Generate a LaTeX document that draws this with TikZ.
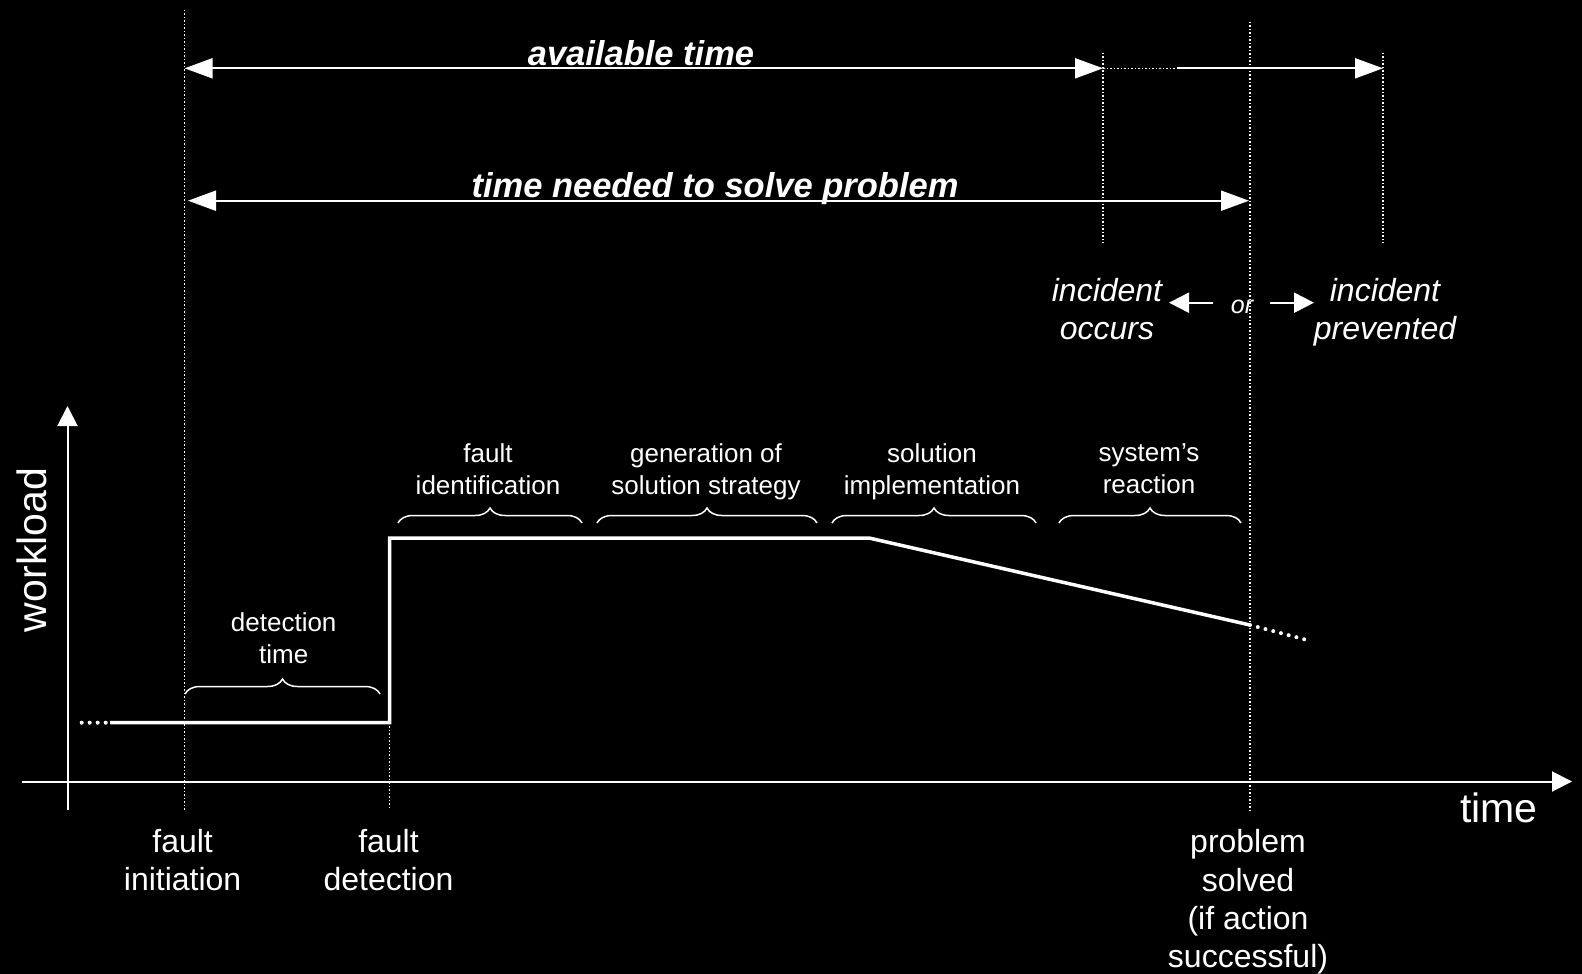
\documentclass[tikz,border=0pt]{standalone}
\usepackage{fontspec}
\setmainfont{Liberation Sans}
\usetikzlibrary{arrows.meta,decorations.pathreplacing}
\begin{document}
\begin{tikzpicture}[x=1pt,y=-1pt,
  every node/.style={text=white,inner sep=0pt,align=center},
  big/.style={font=\fontsize{32}{38.4}\selectfont},
  bigit/.style={font=\fontsize{32}{38.4}\selectfont\itshape},
  title/.style={font=\fontsize{34.5}{40}\selectfont\bfseries\itshape},
  small/.style={font=\fontsize{26}{32}\selectfont},
  axlabel/.style={font=\fontsize{41}{48}\selectfont},
  axis/.style={draw=white,line width=2pt},
  dimline/.style={draw=white,line width=2pt},
  guide/.style={draw=white,line width=1.5pt,dash pattern=on 1.5pt off 2pt},
  load/.style={draw=white,line width=3.5pt,line join=miter},
  loaddots/.style={draw=white,line width=4pt,line cap=round,dash pattern=on 0pt off 8pt},
  bracestyle/.style={draw=white,line width=1.5pt,decorate,decoration={brace,amplitude=15pt}},
  bighead/.style={-{Triangle[length=28pt,width=20pt]}},
  bothheads/.style={{Triangle[length=28pt,width=20pt]}-{Triangle[length=28pt,width=20pt]}},
  axhead/.style={-{Triangle[length=20pt,width=20pt]}},
  smallhead/.style={-{Triangle[length=20pt,width=20pt]}}
]
\fill[black] (0,0) rectangle (1582,974);
\useasboundingbox (0,0) rectangle (1582,974);

% coordinates
\coordinate (yb) at (67.5,810);
\coordinate (yt) at (67.5,406);
\coordinate (xl) at (22,781.5);
\coordinate (xr) at (1572,781.5);

\coordinate (fiT) at (184.6,10);
\coordinate (fiB) at (184.6,811);
\coordinate (fdT) at (389.5,722.7);
\coordinate (fdB) at (389.5,808);
\coordinate (ioT) at (1103,53);
\coordinate (ioB) at (1103,243);
\coordinate (ipT) at (1383,53);
\coordinate (ipB) at (1383,243);
\coordinate (psT) at (1250,22);
\coordinate (psB) at (1250,812);

\coordinate (av1) at (184.6,68.3);
\coordinate (av2) at (1103,68.3);
\coordinate (av3) at (1177,68.3);
\coordinate (av4) at (1383,68.3);
\coordinate (tn1) at (188,200.7);
\coordinate (tn2) at (1249,200.7);

\coordinate (oL0) at (1213,302.7);
\coordinate (oL1) at (1169,302.7);
\coordinate (oR0) at (1270,302.7);
\coordinate (oR1) at (1314,302.7);

\coordinate (w0) at (81.7,722.7);
\coordinate (w1) at (110,722.7);
\coordinate (w2) at (389.5,722.7);
\coordinate (w3) at (389.5,538);
\coordinate (w4) at (869,538);
\coordinate (w5) at (1250,625);
\coordinate (w6) at (1307,640);

\coordinate (b1a) at (185,694);  \coordinate (b1b) at (380,694);
\coordinate (b2a) at (398,523);  \coordinate (b2b) at (582,523);
\coordinate (b3a) at (597,523);  \coordinate (b3b) at (817,523);
\coordinate (b4a) at (832,523);  \coordinate (b4b) at (1036,523);
\coordinate (b5a) at (1059,523); \coordinate (b5b) at (1241,523);

% guide lines
\draw[guide] (fiT) -- (fiB);
\draw[guide] (fdT) -- (fdB);
\draw[guide] (ioT) -- (ioB);
\draw[guide] (ipT) -- (ipB);
\draw[guide] (psT) -- (psB);

% axes
\draw[axis,axhead] (yb) -- (yt);
\draw[axis,axhead] (xl) -- (xr);

% dimension arrows
\draw[dimline,bothheads] (av1) -- (av2);
\draw[guide] (av2) -- (av3);
\draw[dimline,bighead] (av3) -- (av4);
\draw[dimline,bothheads] (tn1) -- (tn2);
\draw[dimline,smallhead] (oL0) -- (oL1);
\draw[dimline,smallhead] (oR0) -- (oR1);

% workload curve
\draw[loaddots] (w0) -- (w1);
\draw[load] (w1) -- (w2) -- (w3) -- (w4) -- (w5);
\draw[loaddots] (w5) -- (w6);

% braces
\draw[bracestyle] (b1a) -- (b1b);
\draw[bracestyle] (b2a) -- (b2b);
\draw[bracestyle] (b3a) -- (b3b);
\draw[bracestyle] (b4a) -- (b4b);
\draw[bracestyle] (b5a) -- (b5b);

% labels
\node[title,anchor=base] (avail) at (641,66) {available time};
\node[title,anchor=base] (need) at (715,197) {time needed to solve problem};
\node[bigit] (occ) at (1107,309) {incident\\occurs};
\node[bigit] (prev) at (1385,312) {incident\\prevented};
\node[font=\fontsize{25}{30}\selectfont\itshape,anchor=base] (or) at (1242,313) {or};

\node[small] (det) at (283.7,638) {detection\\time};
\node[small] (fid) at (488,469) {fault\\identification};
\node[small] (gen) at (706,472) {generation of\\solution strategy};
\node[small] (imp) at (932,472) {solution\\implementation};
\node[small] (sys) at (1149,469) {system’s\\reaction};

\node[big] (finit) at (182.6,860) {fault\\initiation};
\node[big] (fdet) at (388.5,860) {fault\\detection};
\node[big] (psol) at (1248,902) {problem\\solved\\(if action\\successful)};

\node[axlabel] (tlab) at (1499,808) {time};
\node[axlabel,rotate=90] (wlab) at (31.5,550) {workload};
\end{tikzpicture}
\end{document}
